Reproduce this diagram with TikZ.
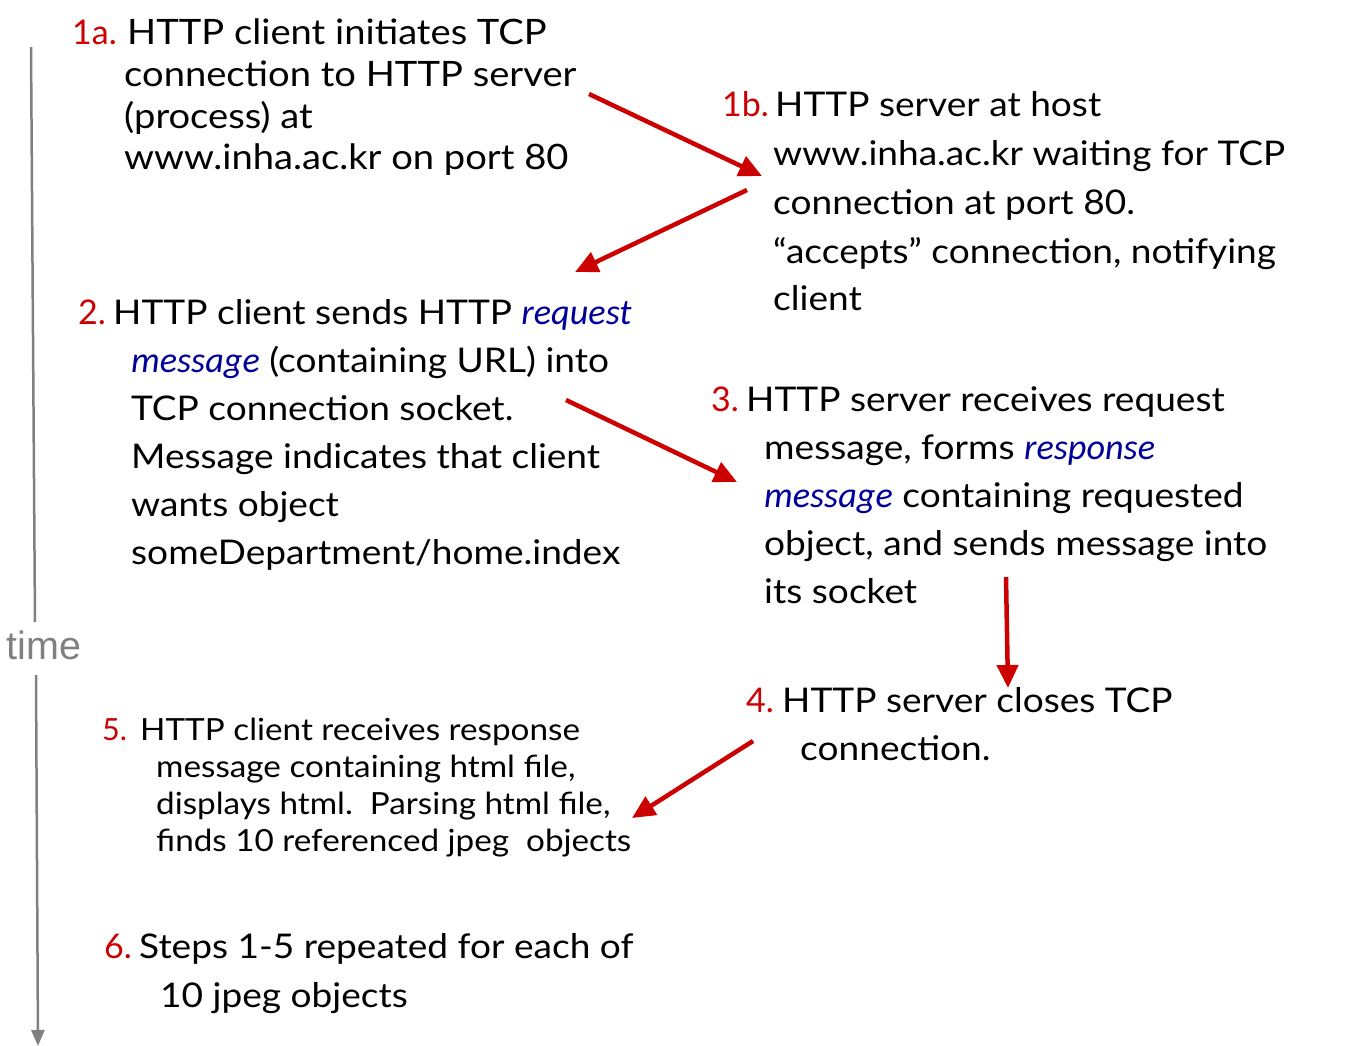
\documentclass[tikz,border=0pt]{standalone}
\usepackage{fontspec}
\setmainfont{Lato}[FakeStretch=1.09]
\newfontfamily\numfont{Lato}
\newfontfamily\calfont{Carlito}[Scale=1.065]
\newfontfamily\arialfont{Liberation Sans}
\usetikzlibrary{arrows.meta}
\definecolor{numred}{RGB}{204,0,0}
\definecolor{kwblue}{RGB}{0,0,153}
\definecolor{axisgray}{RGB}{128,128,128}
\newcommand{\kw}[1]{{\calfont\itshape\color{kwblue}#1}}
\tikzset{
  line/.style={anchor=base west, inner sep=0pt},
  big/.style={line, font=\fontsize{34}{40}\selectfont},
  mid/.style={line, font=\fontsize{35}{40}\selectfont},
  small/.style={line, font=\fontsize{30.5}{34}\selectfont},
  num/.style={text=numred, font=\numfont\fontsize{34}{40}\selectfont},
  snum/.style={text=numred, font=\numfont\fontsize{30.5}{34}\selectfont},
  redarrow/.style={draw=numred, line width=4.5pt, -{Triangle[length=23pt,width=21pt]}},
  timeline/.style={draw=axisgray, line width=2.5pt},
}
\begin{document}
\begin{tikzpicture}[x=1pt,y=-1pt]
\useasboundingbox (0,0) rectangle (1357,1046);
% time axis
\coordinate (t0) at (31,47);
\coordinate (t1) at (35,622);
\coordinate (t2) at (36,675);
\coordinate (t3) at (38,1046);
\draw[timeline] (t0) -- (t1);
\draw[timeline, -{Triangle[length=16pt,width=13pt]}] (t2) -- (t3);
\node[inner sep=0pt, text=axisgray, font=\arialfont\fontsize{39.5}{40}\selectfont] (time) at (44,645) {time};

% block 1a
\node[line, num] (n1a) at (72,45) {1a.};
\node[mid] (l1a1) at (127,45) {HTTP client initiates TCP};
\node[mid] (l1a2) at (124,87) {connection to HTTP server};
\node[mid] (l1a3) at (124,129) {(process) at};
\node[mid] (l1a4) at (124,169) {www.inha.ac.kr on port 80};

% block 1b
\node[line, num] (n1b) at (722,117) {1b.};
\node[big] (l1b1) at (775,117) {HTTP server at host};
\node[big] (l1b2) at (773,165) {www.inha.ac.kr waiting for TCP};
\node[big] (l1b3) at (773,214) {connection at port 80.};
\node[big] (l1b4) at (773,263) {“accepts” connection, notifying};
\node[big] (l1b5) at (773,310) {client};

% block 2
\node[line, num] (n2) at (78,324) {2.};
\node[big] (l21) at (113,324) {HTTP client sends HTTP \kw{request}};
\node[big] (l22) at (131,372) {\kw{message} (containing URL) into};
\node[big] (l23) at (131,420) {TCP connection socket.};
\node[big] (l24) at (131,468) {Message indicates that client};
\node[big] (l25) at (131,516) {wants object};
\node[big] (l26) at (131,564) {someDepartment/home.index};

% block 3
\node[line, num] (n3) at (711,411) {3.};
\node[big] (l31) at (746,411) {HTTP server receives request};
\node[big] (l32) at (764,459) {message, forms \kw{response}};
\node[big] (l33) at (764,507) {\kw{message} containing requested};
\node[big] (l34) at (764,555) {object, and sends message into};
\node[big] (l35) at (764,603) {its socket};

% block 4
\node[line, num] (n4) at (746,712) {4.};
\node[big] (l41) at (782,712) {HTTP server closes TCP};
\node[big] (l42) at (800,760) {connection.};

% block 5
\node[line, snum] (n5) at (102,740) {5.};
\node[small] (l51) at (140,740) {HTTP client receives response};
\node[small] (l52) at (156,777) {message containing html file,};
\node[small] (l53) at (156,814) {displays html.\ \ Parsing html file,};
\node[small] (l54) at (156,851) {finds 10 referenced jpeg\ \ objects};

% block 6
\node[line, num] (n6) at (104,958) {6.};
\node[big] (l61) at (139,958) {Steps 1-5 repeated for each of};
\node[big] (l62) at (160,1007) {10 jpeg objects};

% arrows
\coordinate (a1s) at (589,94);   \coordinate (a1e) at (762,176);
\coordinate (a2s) at (747,190);  \coordinate (a2e) at (575,272);
\coordinate (a3s) at (566,400);  \coordinate (a3e) at (737,482);
\coordinate (a4s) at (1006,577); \coordinate (a4e) at (1008,688);
\coordinate (a5s) at (753,741);  \coordinate (a5e) at (632,818);
\draw[redarrow] (a1s) -- (a1e);
\draw[redarrow] (a2s) -- (a2e);
\draw[redarrow] (a3s) -- (a3e);
\draw[redarrow] (a4s) -- (a4e);
\draw[redarrow] (a5s) -- (a5e);
\end{tikzpicture}
\end{document}
